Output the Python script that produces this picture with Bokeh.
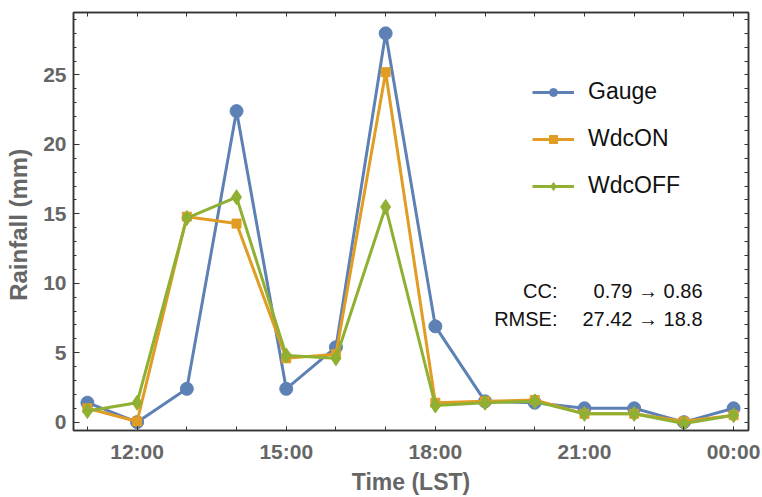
from bokeh.plotting import figure
from bokeh.models import (FixedTicker, Range1d, LinearAxis, Legend, LegendItem, Label)
from bokeh.embed import file_html
from bokeh.resources import INLINE

hours = [11, 12, 13, 14, 15, 16, 17, 18, 19, 20, 21, 22, 23, 24]
gauge = [1.4, 0.0, 2.4, 22.4, 2.4, 5.4, 28.0, 6.9, 1.5, 1.4, 1.0, 1.0, 0.0, 1.0]
wdc_on = [1.0, 0.05, 14.8, 14.3, 4.6, 4.9, 25.2, 1.4, 1.5, 1.6, 0.6, 0.6, 0.05, 0.5]
wdc_off = [0.8, 1.4, 14.7, 16.2, 4.8, 4.6, 15.5, 1.2, 1.4, 1.5, 0.6, 0.6, -0.1, 0.5]
x_major = [12, 15, 18, 21, 24]
x_labels = {12: "12:00", 15: "15:00", 18: "18:00", 21: "21:00", 24: "00:00"}
y_major = [0, 5, 10, 15, 20, 25]
y_minor = list(range(0, 30))
stats_names = ["CC:", "RMSE:"]
stats_values = ["0.79 \u2192 0.86", "27.42 \u2192 18.8"]

C_G = "#5E81B5"
C_ON = "#E19C24"
C_OFF = "#8FB032"
AX = "#333333"
TXT = "#666666"
FONT = "Liberation Sans"

p = figure(width=762, height=497, output_backend="svg", toolbar_location=None,
           x_range=Range1d(10.72, 24.3), y_range=Range1d(-0.6, 29.5),
           min_border_left=73, min_border_right=14, min_border_top=12, min_border_bottom=67)
p.grid.visible = False
p.outline_line_color = AX
p.outline_line_width = 1.5

def style_axis(ax):
    ax.axis_line_color = AX
    ax.axis_line_width = 1.5
    ax.major_tick_line_color = AX
    ax.minor_tick_line_color = AX
    ax.major_tick_in = 6
    ax.major_tick_out = 0
    ax.minor_tick_in = 3
    ax.minor_tick_out = 0
    ax.major_label_text_font = FONT
    ax.major_label_text_font_style = "bold"
    ax.major_label_text_color = TXT
    ax.major_label_text_font_size = "21px"
    ax.axis_label_text_font = FONT
    ax.axis_label_text_font_style = "bold"
    ax.axis_label_text_color = TXT
    ax.axis_label_text_font_size = "23px"

p.xaxis.ticker = FixedTicker(ticks=x_major, minor_ticks=hours)
p.xaxis.major_label_overrides = x_labels
p.xaxis.axis_label = "Time (LST)"
style_axis(p.xaxis[0])
p.xaxis.axis_label_standoff = 3
p.xaxis.major_label_standoff = 9
p.xaxis.major_tick_in = 4
p.xaxis.minor_tick_in = 4

p.yaxis.ticker = FixedTicker(ticks=y_major, minor_ticks=y_minor)
p.yaxis.axis_label = "Rainfall  (mm)"
style_axis(p.yaxis[0])
p.yaxis.axis_label_text_font_size = "24px"
p.yaxis.axis_label_standoff = 8
p.yaxis.major_label_standoff = 7

# frame ticks on top and right (no labels)
top = LinearAxis(ticker=FixedTicker(ticks=[], minor_ticks=hours))
style_axis(top)
top.minor_tick_in = 4
top.major_label_standoff = 0
right = LinearAxis(ticker=FixedTicker(ticks=[], minor_ticks=y_minor))
style_axis(right)
right.minor_tick_in = 4
right.major_label_standoff = 0
p.add_layout(top, "above")
p.add_layout(right, "right")

lg = p.line(hours, gauge, line_color=C_G, line_width=3)
mg = p.scatter(hours, gauge, marker="circle", size=13, fill_color=C_G, line_color=C_G)
lon = p.line(hours, wdc_on, line_color=C_ON, line_width=3)
mon = p.scatter(hours, wdc_on, marker="square", size=9, fill_color=C_ON, line_color=C_ON)
loff = p.line(hours, wdc_off, line_color=C_OFF, line_width=3)
moff = p.scatter(hours, wdc_off, marker="diamond", size=15, fill_color=C_OFF, line_color=C_OFF)

legend = Legend(items=[LegendItem(label="Gauge", renderers=[lg, mg]),
                       LegendItem(label="WdcON", renderers=[lon, mon]),
                       LegendItem(label="WdcOFF", renderers=[loff, moff])],
                location=(459, 231), border_line_color=None, background_fill_alpha=0,
                padding=0, margin=0, spacing=20, glyph_width=42, glyph_height=20,
                label_height=20, label_standoff=14,
                label_text_font=FONT, label_text_font_size="23px", label_text_color="#111111")
p.add_layout(legend, "center")

for i, (n, v) in enumerate(zip(stats_names, stats_values)):
    ys = 140 - 28 * i
    p.add_layout(Label(x=484, y=ys, x_units="screen", y_units="screen", text=n,
                       text_align="right", text_baseline="middle", text_font=FONT,
                       text_font_size="20px", text_color="#111111"))
    p.add_layout(Label(x=629, y=ys, x_units="screen", y_units="screen", text=v,
                       text_align="right", text_baseline="middle", text_font=FONT,
                       text_font_size="20px", text_color="#111111"))

open("out.html", "w").write(file_html(p, INLINE))
